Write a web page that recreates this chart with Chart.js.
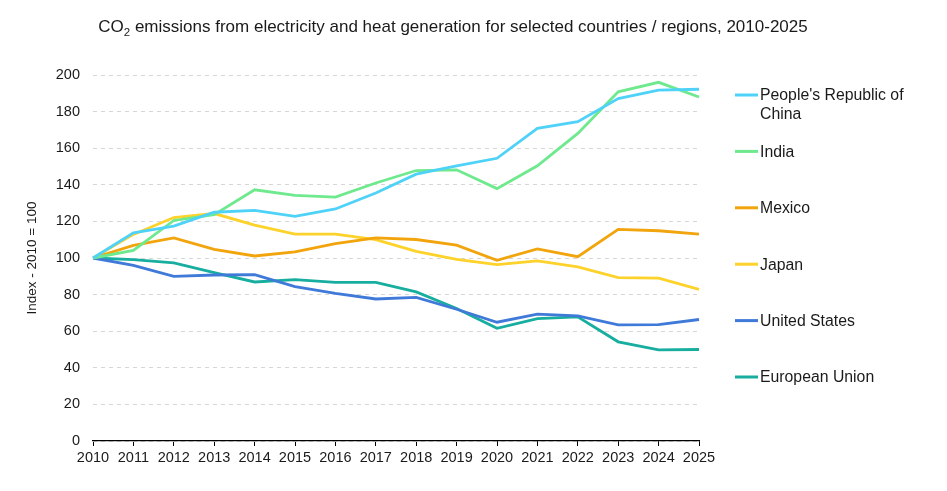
<!DOCTYPE html>
<html lang="en">

<head>
    <meta charset="UTF-8">
    <title>CO2 emissions from electricity and heat generation</title>
    <script src="https://cdn.jsdelivr.net/npm/chart.js"></script>
    <style>
        body { margin: 0; background: #fff; }
        #wrap { width: 947px; height: 491px; }
    </style>
</head>

<body>
    <div id="wrap">
        <canvas id="co2Chart" width="947" height="491"></canvas>
    </div>

    <script>
        // years on the x axis
        var years = ['2010', '2011', '2012', '2013', '2014', '2015', '2016', '2017',
            '2018', '2019', '2020', '2021', '2022', '2023', '2024', '2025'];

        // index values, 2010 = 100
        var china = [100, 113.8, 117.4, 125, 126, 122.8, 126.8, 135.5, 145.8, 150.4, 154.5, 170.8, 174.5, 187.1, 191.7, 192.2];
        var india = [100, 104.2, 120.5, 123.7, 137.3, 134.2, 133.3, 141, 147.8, 148.2, 137.9, 150.4, 168.1, 190.8, 196, 188];
        var mexico = [100, 106.9, 111, 104.7, 101.1, 103.4, 107.8, 111, 110.1, 107, 98.7, 105, 100.7, 115.6, 114.9, 113];
        var japan = [100, 112.9, 122.1, 124.3, 118, 113, 113, 110, 103.6, 99.3, 96.4, 98.4, 95.1, 89.3, 89, 82.9];
        var unitedStates = [100, 96, 90, 90.7, 90.9, 84.4, 80.7, 77.6, 78.5, 72, 64.9, 69.3, 68.4, 63.5, 63.6, 66.4];
        var europeanUnion = [100, 99.1, 97.3, 92, 86.9, 88.2, 86.7, 86.7, 81.5, 72.4, 61.6, 66.9, 67.8, 54.2, 49.8, 50];

        var seriesNames = ["People's Republic of China", 'India', 'Mexico', 'Japan', 'United States', 'European Union'];
        var seriesColors = ['#4fd2f8', '#6ee98d', '#f2a40c', '#fdd22a', '#3f7ad9', '#17ae9f'];
        var seriesValues = [china, india, mexico, japan, unitedStates, europeanUnion];

        // y ticks
        var yMin = 0, yMax = 200, yStep = 20;

        var FONT = '"Liberation Sans", Arial, sans-serif';

        // title with subscript 2
        var titlePlugin = {
            id: 'co2Title',
            afterDraw: function (chart) {
                var c = chart.ctx;
                c.save();
                c.fillStyle = '#1a1a1a';
                c.textBaseline = 'alphabetic';
                var big = '17px ' + FONT, small = '11.5px ' + FONT;
                var rest = ' emissions from electricity and heat generation for selected countries / regions, 2010-2025';
                c.font = big;
                var w1 = c.measureText('CO').width;
                var w3 = c.measureText(rest).width;
                c.font = small;
                var w2 = c.measureText('2').width;
                var x = 453 - (w1 + w2 + w3) / 2, y = 32;
                c.font = big;
                c.fillText('CO', x, y);
                c.font = small;
                c.fillText('2', x + w1, y + 4);
                c.font = big;
                c.fillText(rest, x + w1 + w2, y);
                c.restore();
            }
        };

        // legend on the right, one entry per series
        var legendPlugin = {
            id: 'sideLegend',
            afterDraw: function (chart) {
                var c = chart.ctx;
                c.save();
                c.font = '15.8px ' + FONT;
                c.textBaseline = 'middle';
                chart.data.datasets.forEach(function (ds, i) {
                    var y = 95 + i * 56.4;
                    c.strokeStyle = ds.borderColor;
                    c.lineWidth = 3;
                    c.beginPath();
                    c.moveTo(735, y);
                    c.lineTo(758, y);
                    c.stroke();
                    c.fillStyle = '#1a1a1a';
                    var lines = ds.label === "People's Republic of China" ? ["People's Republic of", 'China'] : [ds.label];
                    lines.forEach(function (t, k) {
                        c.fillText(t, 760, y + 1 + k * 18.5);
                    });
                });
                c.restore();
            }
        };

        var ctx = document.getElementById('co2Chart').getContext('2d');

        var co2Chart = new Chart(ctx, {
            type: 'line',
            data: {
                labels: years,
                datasets: seriesNames.map(function (name, i) {
                    return {
                        label: name,
                        data: seriesValues[i],
                        borderColor: seriesColors[i],
                        backgroundColor: seriesColors[i],
                        borderWidth: 2.8,
                        pointRadius: 0,
                        tension: 0,
                        fill: false
                    };
                })
            },
            options: {
                responsive: false,
                animation: false,
                layout: { padding: { top: 75, right: 248, left: 0, bottom: 0 } },
                plugins: {
                    legend: { display: false },
                    title: { display: false },
                    tooltip: { enabled: false }
                },
                scales: {
                    x: {
                        offset: false,
                        grid: {
                            drawOnChartArea: false,
                            drawTicks: true,
                            tickLength: 5,
                            color: '#000'
                        },
                        border: { display: true, color: '#000', width: 1.2 },
                        ticks: {
                            color: '#1a1a1a',
                            font: { family: FONT, size: 14.5 },
                            padding: 3,
                            maxRotation: 0,
                            autoSkip: false
                        },
                        afterFit: function (scale) { scale.height = 50; }
                    },
                    y: {
                        min: yMin,
                        max: yMax,
                        ticks: {
                            stepSize: yStep,
                            color: '#1a1a1a',
                            font: { family: FONT, size: 14.5 },
                            padding: 13
                        },
                        grid: {
                            color: '#d6d6d6',
                            lineWidth: 1,
                            drawTicks: false
                        },
                        border: { display: false, dash: [4, 4] },
                        title: {
                            display: true,
                            text: 'Index - 2010 = 100',
                            color: '#1a1a1a',
                            font: { family: FONT, size: 13.5 },
                            padding: { top: 24, bottom: 0 }
                        },
                        afterFit: function (scale) { scale.width = 93; }
                    }
                }
            },
            plugins: [titlePlugin, legendPlugin]
        });
    </script>
</body>

</html>
